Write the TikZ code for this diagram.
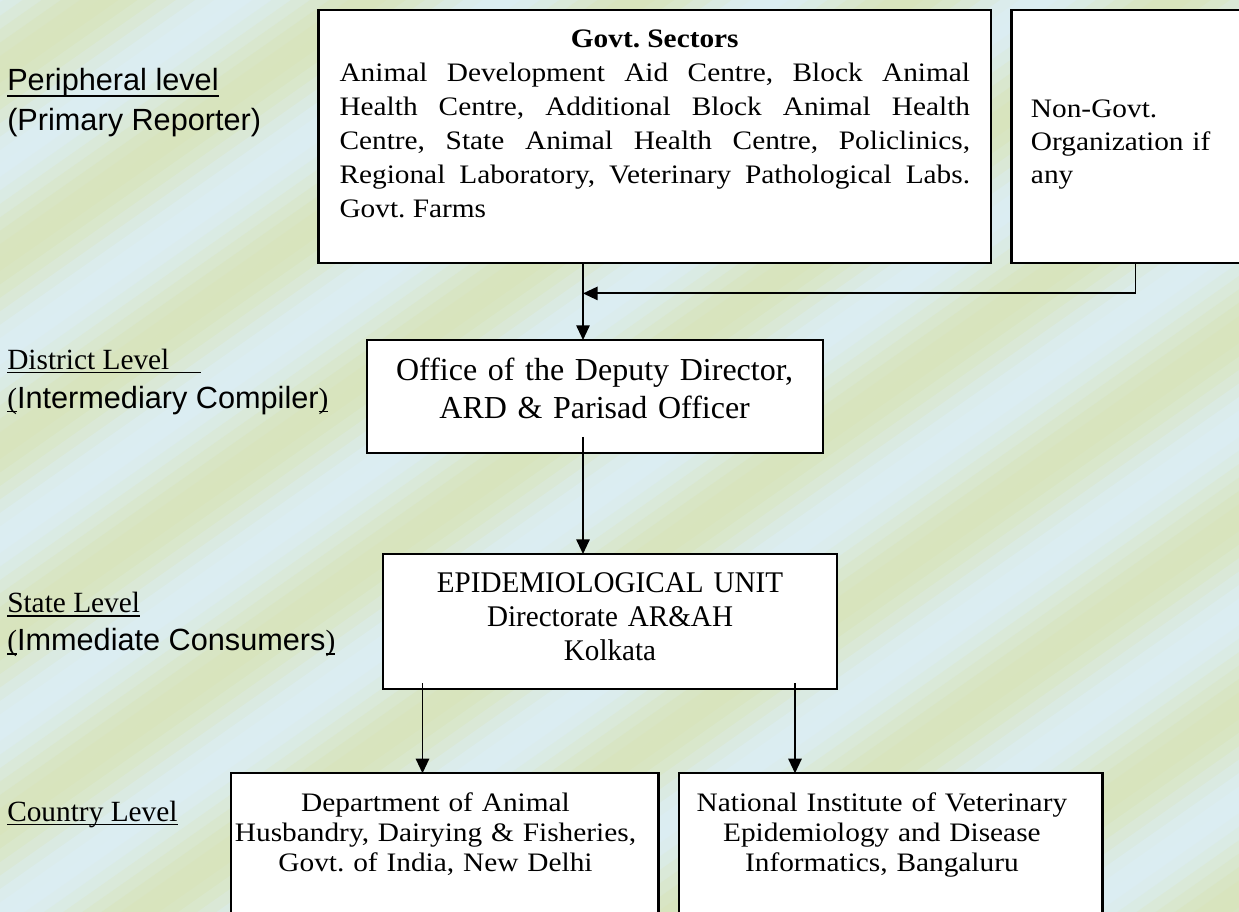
\documentclass[tikz,border=0pt]{standalone}
\usepackage{fontspec}
\setmainfont{Liberation Serif}
\newfontfamily\comicfont{Liberation Sans}
\newfontfamily\wideserif[FakeStretch=1.1]{Liberation Serif}
\newfontfamily\narrowserif[FakeStretch=0.97]{Liberation Serif}
\usetikzlibrary{arrows.meta,calc}
\definecolor{bgblue}{RGB}{219,237,242}
\definecolor{bggreen}{RGB}{216,228,189}
\newcommand\ulin[2][3pt]{\setbox0=\hbox{#2}\rlap{\rule[-#1]{\wd0}{1.1pt}}\box0}
\frenchspacing

\begin{document}
\begin{tikzpicture}[x=0.75pt,y=-0.75pt,
  box/.style={draw, line width=1.6pt, fill=white, outer sep=0pt, inner ysep=0pt, anchor=north west},
  lvl/.style={anchor=base west, inner sep=0pt, font=\fontsize{22}{26}\selectfont},
  comic/.style={anchor=base west, inner sep=0pt, font=\comicfont\fontsize{23}{28}\selectfont},
  arr/.style={line width=1.4pt, -{Triangle[length=11pt,width=10pt]}}]

   \useasboundingbox (0,0) rectangle (1239,911);
   \clip (0,0) rectangle (1239,911);

   \foreach \k in {0,...,139}{
      \pgfmathsetmacro\s{-20+11*\k}
      \pgfmathsetmacro\t{\s+11.5}
      \pgfmathtruncatemacro\p{50+50*cos(2.3377*(\s+5.5-58))}
      \fill[bggreen!\p!bgblue] ({\s*0.574-1310.4},{\s*0.819+918.4}) -- ({\s*0.574+1310.4},{\s*0.819-918.4})
         -- ({\t*0.574+1310.4},{\t*0.819-918.4}) -- ({\t*0.574-1310.4},{\t*0.819+918.4}) -- cycle;
   }

   \node[comic] (periph) at (7,90) {\ulin[5pt]{Peripheral level}};
   \node[comic] (periphsub) at (7,130) {(Primary Reporter)};
   \node[lvl] (distlbl) at (7,369) {\ulin{District Level\hspace{24pt}}};
   \node[lvl] (distsub) at (7,408) {\ulin{(}{\comicfont\fontsize{23}{28}\selectfont Intermediary Compiler}\ulin{)}};
   \node[lvl] (statelbl) at (7,612.7) {\ulin{State Level}};
   \node[lvl] (statesub) at (7,650.7) {\ulin{(}{\comicfont\fontsize{23}{28}\selectfont Immediate Consumers}\ulin{)}};
   \node[lvl] (ctylbl) at (7,821) {\ulin{Country Level}};

   \node[box, inner xsep=15.75pt, text width=472.9pt, text height=27.75pt, text depth=161.7pt, align=justify,
         font=\wideserif\fontsize{20}{25.5}\selectfont] (govt) at (318.5,10)
        {{\centering\textbf{Govt. Sectors}\par}Animal Development Aid Centre, Block Animal\linebreak
         Health Centre, Additional Block Animal Health\linebreak
         Centre, State Animal Health Centre, Policlinics,\linebreak
         Regional Laboratory, Veterinary Pathological Labs.\linebreak
         Govt. Farms};
   \node[box, inner xsep=14.6pt, text width=187.5pt, text height=80.25pt, text depth=109.2pt, align=left,
         font=\wideserif\fontsize{20}{24.75}\selectfont] (ngo) at (1011.5,10)
        {Non-Govt.\\Organization if\\any};
   \node[box, inner xsep=0pt, text width=341.9pt, text height=30pt, text depth=54.5pt, align=center,
         font=\fontsize{24}{28.5}\selectfont] (dist) at (366.7,340)
        {Office of the Deputy Director,\\ARD \& Parisad Officer};
   \node[box, inner xsep=0pt, text width=341pt, text height=29pt, text depth=72.5pt, align=center,
         font=\narrowserif\fontsize{22.5}{25.3}\selectfont] (state) at (382.7,554)
        {EPIDEMIOLOGICAL UNIT\\Directorate AR\&AH\\Kolkata};
   \node[box, inner xsep=0pt, text width=320.9pt, text height=28.8pt, text depth=96pt, align=center,
         font=\wideserif\fontsize{20}{22.5}\selectfont] (cty1) at (230.6,773.3)
        {Department of Animal\kern13.5pt\\Husbandry, Dairying \& Fisheries,\kern13.5pt\\Govt. of India, New Delhi\kern13.5pt};
   \node[box, inner xsep=0pt, text width=317.4pt, text height=28.8pt, text depth=96pt, align=center,
         font=\wideserif\fontsize{20}{22.5}\selectfont] (cty2) at (679.3,773.3)
        {National Institute of Veterinary\kern13.5pt\\Epidemiology and Disease\kern13.5pt\\Informatics, Bangaluru\kern13.5pt};

   \coordinate (jn) at (583,293.4);
   \coordinate (tap) at (1135.5,293.4);
   \coordinate (sl) at (422.5,683);
   \coordinate (sr) at (795,683);

   \draw[arr] (govt.south -| jn) -- (dist.north -| jn);
   \draw[arr] (ngo.south -| tap) -- (tap) -- (jn);
   \draw[arr] ($(dist.south -| jn)+(0,-15.7)$) -- (state.north -| jn);
   \draw[arr] (sl) -- (cty1.north -| sl);
   \draw[arr] (sr) -- (cty2.north -| sr);
\end{tikzpicture}
\end{document}
